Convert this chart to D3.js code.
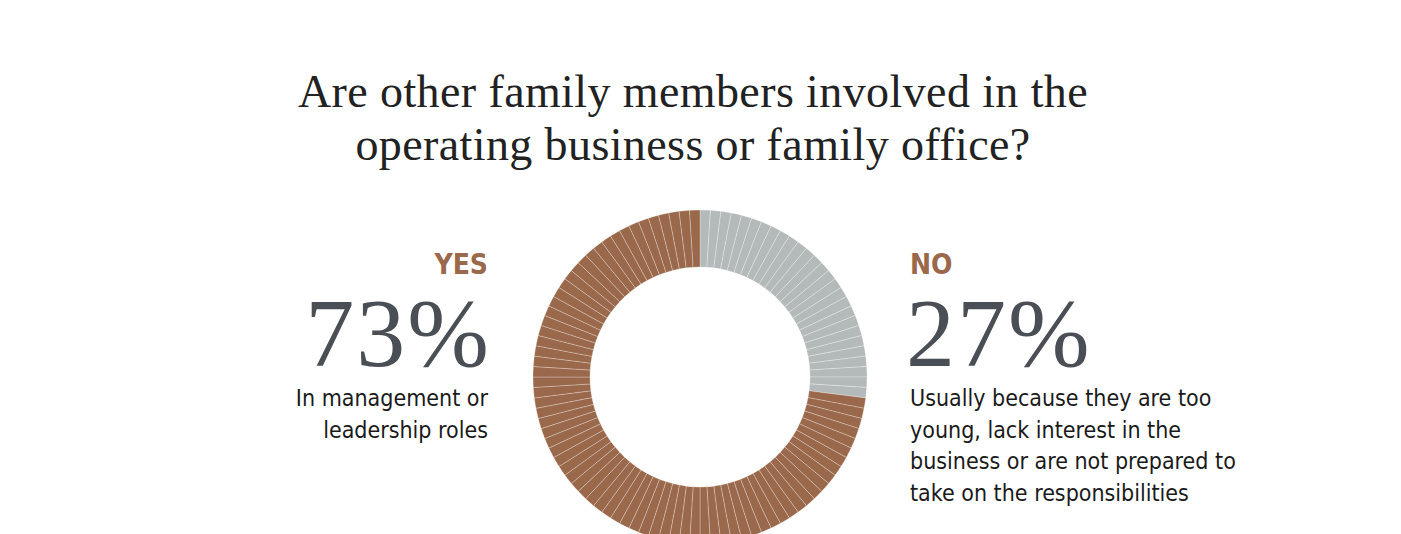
<!DOCTYPE html><html><head><meta charset="utf-8"><script src="https://cdn.jsdelivr.net/npm/d3@7"></script>
<style>body{margin:0;background:#fff}</style></head><body><svg id="c" width="1401" height="534"></svg>
<script>
const titleLines=["Are other family members involved in the","operating business or family office?"];
const categories=["YES","NO"];
const values=[73,27];
const descriptions=[["In management or","leadership roles"],["Usually because they are too","young, lack interest in the","business or are not prepared to","take on the responsibilities"]];
const colors={YES:"#9a684a",NO:"#b4b9ba"};
const svg=d3.select("#c");
const serif="'Liberation Serif','DejaVu Serif',serif", cond="'Liberation Sans Narrow','DejaVu Sans Condensed','Roboto',sans-serif";
svg.selectAll("text.t").data(titleLines).join("text").attr("x",693).attr("y",(d,i)=>107+i*53)
 .attr("text-anchor","middle").attr("font-family",serif).attr("font-size",46).attr("letter-spacing",0.4).attr("fill","#222").text(d=>d);
const units=[];
[1,0].forEach(ci=>{for(let k=0;k<values[ci];k++)units.push(categories[ci]);});
const cx=700,cy=377;
const pie=d3.pie().value(1).sort(null);
const arc=d3.arc().innerRadius(110).outerRadius(167);
svg.append("g").attr("transform",`translate(${cx},${cy})`).selectAll("path").data(pie(units)).join("path")
 .attr("d",arc).attr("fill",d=>colors[d.data]).attr("stroke","rgba(255,255,255,0.45)").attr("stroke-width",0.6);
const pos=[{x:488,a:"end"},{x:910,a:"start"}];
categories.forEach((c,i)=>{
 const p=pos[i],g=svg.append("g");
 g.append("text").attr("x",p.x).attr("y",274).attr("text-anchor",p.a).attr("font-family",cond).attr("font-weight","bold").attr("font-size",28).attr("fill",colors.YES).text(c);
 g.append("text").attr("x",p.x+(i?-4:3)).attr("y",366).attr("text-anchor",p.a).attr("font-family",serif).attr("font-size",98).attr("letter-spacing",2).attr("fill","#4a4f55").text(values[i]+"%");
 descriptions[i].forEach((l,j)=>g.append("text").attr("x",p.x).attr("y",406+j*31.5).attr("text-anchor",p.a).attr("font-family",cond).attr("font-size",23).attr("fill","#1a1a1a").text(l));
});
</script></body></html>
